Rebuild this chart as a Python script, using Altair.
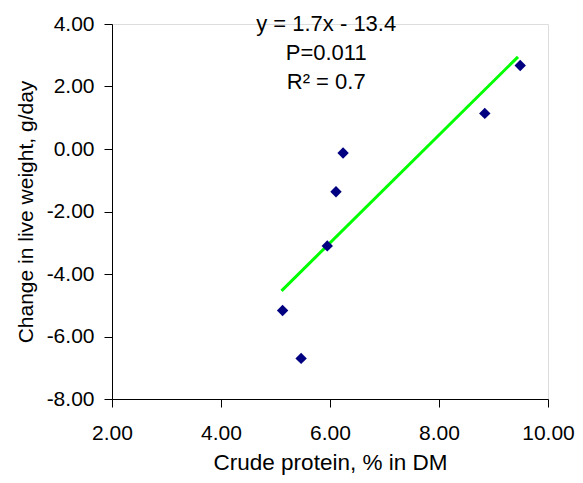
import altair as alt
import pandas as pd

# scatter data
crude_protein = [6.24, 6.11, 5.95, 5.13, 5.47, 8.84, 9.49]
weight_change = [-0.13, -1.37, -3.10, -5.17, -6.70, 1.14, 2.67]

# trend line end points
line_x = [5.11, 9.45]
line_y = [-4.54, 2.95]

# annotation
ann_text = ["y = 1.7x - 13.4", "P=0.011", "R² = 0.7"]
ann_x = [5.93, 5.93, 5.93]
ann_y = [3.78, 2.85, 1.92]

x_ticks = [2, 4, 6, 8, 10]
y_ticks = [-8, -6, -4, -2, 0, 2, 4]

pts = pd.DataFrame({"x": crude_protein, "y": weight_change})
ln = pd.DataFrame({"x": line_x, "y": line_y})
ann = pd.DataFrame({"x": ann_x, "y": ann_y, "t": ann_text})

FONT = "Liberation Sans"
LBL = "(datum.value < 0 ? '-' : '') + format(abs(datum.value), '.2f')"

xs = alt.Scale(domain=[2, 10], nice=False, zero=False)
ys = alt.Scale(domain=[-8, 4], nice=False, zero=False)

xaxis = alt.Axis(values=x_ticks, labelExpr=LBL, title="Crude protein, % in DM",
                 grid=False, domainColor="black", tickColor="black", tickSize=8,
                 labelFlush=False, labelOverlap=False,
                 labelColor="black", labelFont=FONT, labelFontSize=21, labelPadding=15,
                 titleFont=FONT, titleFontSize=22.5, titleFontWeight="normal",
                 titleColor="black", titlePadding=8)
yaxis = alt.Axis(values=y_ticks, labelExpr=LBL,
                 title="Change in live weight, g/day",
                 grid=False, domainColor="black", tickColor="black", tickSize=8,
                 labelFlush=False, labelOverlap=False,
                 labelColor="black", labelFont=FONT, labelFontSize=21, labelPadding=10,
                 titleFont=FONT, titleFontSize=21, titleFontWeight="normal",
                 titleColor="black", titlePadding=10)

points = alt.Chart(pts).mark_point(shape="diamond", filled=True, color="#000080",
                                   size=130, opacity=1).encode(
    x=alt.X("x:Q", scale=xs, axis=xaxis),
    y=alt.Y("y:Q", scale=ys, axis=yaxis),
)

trend = alt.Chart(ln).mark_line(color="#00FF00", strokeWidth=3).encode(
    x=alt.X("x:Q", scale=xs),
    y=alt.Y("y:Q", scale=ys),
)

text = alt.Chart(ann).mark_text(font=FONT, fontSize=22, color="black",
                                align="center", baseline="alphabetic").encode(
    x=alt.X("x:Q", scale=xs),
    y=alt.Y("y:Q", scale=ys),
    text="t:N",
)

chart = (trend + points + text).properties(
    width=436, height=375,
    autosize=alt.AutoSizeParams(type="none"),
    padding={"left": 104, "top": 16, "right": 27, "bottom": 76},
).configure_view(stroke=None).configure(background="white")

chart.save("out.html", embed_options={"renderer": "svg", "actions": False})
